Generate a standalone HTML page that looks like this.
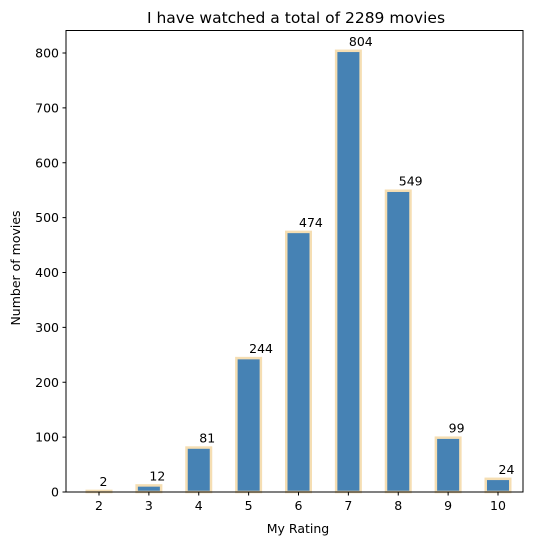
<!DOCTYPE html>
<html><head><meta charset="utf-8"><style>
body{margin:0;background:#fff;font-family:"Liberation Sans","DejaVu Sans",sans-serif}
text{font-family:"DejaVu Sans","Liberation Sans",sans-serif}
</style></head><body>
<svg id="chart" width="540" height="545" xmlns="http://www.w3.org/2000/svg">
<text x="296" y="23" font-size="15.5" text-anchor="middle">I have watched a total of 2289 movies</text>
<g id="bars"></g>
<g id="axes"></g>
<rect x="66" y="30.5" width="457" height="461.5" fill="none" stroke="#000" stroke-width="1"/>
<text x="298" y="533" font-size="12.5" text-anchor="middle">My Rating</text>
<text transform="translate(20,268) rotate(-90)" font-size="12.5" text-anchor="middle">Number of movies</text>
</svg>
<script>
const categories=[2,3,4,5,6,7,8,9,10];
const counts=[2,12,81,244,474,804,549,99,24];
const yTicks=[0,100,200,300,400,500,600,700,800];
const NS="http://www.w3.org/2000/svg";
function xs(c){return 99+(c-2)*49.875;}
function ys(v){return 492-v*0.54875;}
const bw=24.5;
const bars=document.getElementById('bars'),axes=document.getElementById('axes');
function mk(t,a,p){const e=document.createElementNS(NS,t);for(const k in a)e.setAttribute(k,a[k]);p.appendChild(e);return e;}
categories.forEach((c,i)=>{
  const r=mk('rect',{x:xs(c)-bw/2,y:ys(counts[i]),width:bw,height:492-ys(counts[i]),fill:'#4682b4',stroke:'#f5deb3','stroke-width':2.5},bars);
  
  
  const t=mk('text',{x:xs(c)+0.5,y:ys(counts[i])-5,'font-size':12.5},bars);
  t.textContent=counts[i];
  
  
  const tk=mk('line',{x1:xs(c),x2:xs(c),y1:492,y2:495.5,stroke:'#000'},axes);
  
  
  const tl=mk('text',{x:xs(c),y:510,'font-size':12.5,'text-anchor':'middle'},axes);
  tl.textContent=c;
  
  
});
yTicks.forEach(v=>{
  const tk=mk('line',{x1:62.5,x2:66,y1:ys(v),y2:ys(v),stroke:'#000'},axes);
  
  
  const tl=mk('text',{x:59,y:ys(v)+4.5,'font-size':12.5,'text-anchor':'end'},axes);
  tl.textContent=v;
  
  
});
</script>
</body></html>
